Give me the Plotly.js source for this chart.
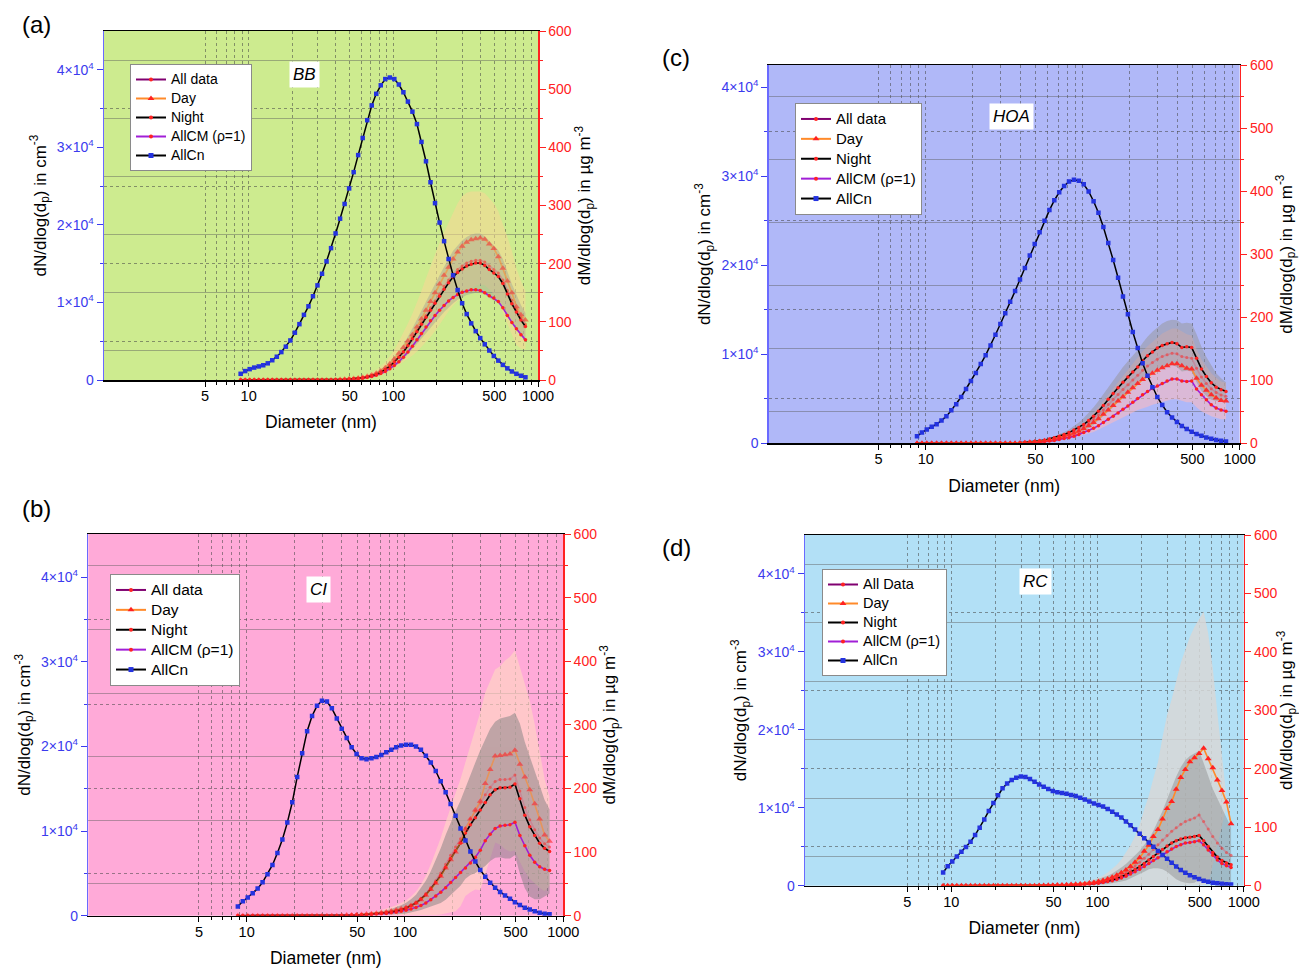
<!DOCTYPE html>
<html>
<head>
<meta charset="utf-8">
<script src="https://cdn.plot.ly/plotly-3.0.1.min.js"></script>
<style>html,body{margin:0;padding:0;background:#fff;}#chart{width:1299px;height:968px;}</style>
</head>
<body>
<div id="chart"></div>
<script>
// ---------------- DATA ----------------
const diameters = [8.80,9.46,10.16,10.92,11.74,12.61,13.55,14.56,15.65,16.82,18.07,19.42,20.87,22.43,24.10,25.90,27.83,29.90,32.14,34.53,37.11,39.88,42.85,46.05,49.49,53.18,57.15,61.41,65.99,70.91,76.21,81.89,88.00,94.57,101.6,109.2,117.4,126.1,135.5,145.6,156.5,168.2,180.7,194.2,208.7,224.3,241.0,259.0,278.3,299.0,321.4,345.3,371.1,398.8,428.5,460.5,494.9,531.8,571.5,614.1,659.9,709.1,762.1,818.9];
const xTickVals = [5,10,50,100,500,1000];
const xTickText = ['5','10','50','100','500','1000'];
const nTickVals = [0,10000,20000,30000,40000];
const nTickText = ['0','1×10<sup>4</sup>','2×10<sup>4</sup>','3×10<sup>4</sup>','4×10<sup>4</sup>'];
const mTickVals = [0,100,200,300,400,500,600];

// (a) BB
const a_AllCn = [800,1150,1400,1600,1750,1900,2150,2550,3000,3600,4300,5100,6100,7200,8400,9500,10800,12200,13700,15300,17000,18900,20800,22700,24700,26800,29000,31200,33500,35400,36900,38000,38800,39000,38800,38100,37100,35900,34600,33000,30700,28200,25500,22800,20300,17900,15600,13500,11600,9900,8500,7300,6300,5400,4600,3800,3100,2500,1950,1500,1100,800,550,350];
const a_All = [0,0,0,0,0,0,0,0,0,0,0,0,0,0,0,0,0,0,0,0,0,0.5,0.8,1.2,1.8,2.4,3.1,4.1,5.7,7.7,10.3,14,18.5,24.7,32,40,49.5,61,73,85.5,99,111,124,136,148,161,172,182,190,196,201,204,206,206,203,196,190,184,172,154,137,122,108,96];
const a_Day = [0,0,0,0,0,0,0,0,0,0,0,0,0,0,0,0,0,0,0,0,0,0.6,1,1.4,2,2.7,3.5,4.6,6.3,8.6,11.5,15.5,21,28,36,46,56,67,78,91,105,120,135,150,165,180,194,208,220,230,237,241,243,244,242,234,226,212,192,170,150,126,112,103];
const a_Night = [0,0,0,0,0,0,0,0,0,0,0,0,0,0,0,0,0,0,0,0,0,0.5,0.8,1.2,1.7,2.3,3,4,5.5,7.5,10,13.5,18,24,31,39,48,59,71,83,96,108,120,132,144,156,167,177,185,191,196,199,201,201,197,190,184,178,166,148,131,117,103,92];
const a_AllCM = [0,0,0,0,0,0,0,0,0,0,0,0,0,0,0,0,0,0,0,0,0,0.4,0.6,0.9,1.3,1.8,2.4,3.2,4.4,6,8,11,14.5,19.5,25,31.5,39,48,58,69,80,91,102,111,120,128,136,142,147,151,153,155,155,154,150,145,141,135,124,111,99,88,78,69];
const a_sdDay = [0,0,0,0,0,0,0,0,0,0,0,0,0,0,0,0,0,0,0,0,0,0.3,0.5,0.7,1,1.5,2,2.5,3.5,4.5,6,8,10,13,16,20,25,30,36,42,48,55,61,66,71,74,76,80,84,86,85,83,81,80,79,78,78,78,77,76,72,66,58,50];
const a_sdBand2 = [0,0,0,0,0,0,0,0,0,0,0,0,0,0,0,0,0,0,0,0,0,0.2,0.3,0.5,0.7,1,1.3,1.7,2.2,3,4,5,6,7.5,9,11,13,15,18,21,24,27,30,33,36,39,42,45,47,49,50,51,51,51,50,49,47,45,42,38,34,30,26,23];

// (b) CI
const b_AllCn = [1100,1700,2150,2650,3200,3950,4900,6000,7400,9000,11000,13400,16400,19200,21800,23600,24800,25400,25300,24500,23300,22100,21000,19900,19100,18600,18500,18600,18750,19000,19300,19600,19900,20100,20200,20200,20000,19600,18900,18100,17100,15900,14600,13200,11800,10300,8900,7600,6400,5400,4600,3900,3300,2800,2400,2000,1600,1250,950,720,520,350,230,170];
const b_All = [0,0,0,0,0,0,0,0,0,0,0,0,0,0,0,0,0,0,0,0,0,0.5,0.6,1,1.1,1.6,2.1,2.7,3.2,4.3,5.3,6.4,8,10,12.7,16.5,21,27.5,35,44.5,55,67,81,95,108,121,138,152,164,177,190,202,211,214,214,215,221,196,170,151,135,122,113,108];
const b_Day = [0,0,0,0,0,0,0,0,0,0,0,0,0,0,0,0,0,0,0,0,0,0.5,1,1,1.5,2,2.5,3,4,5,6,7.5,9,11,13,16,20,25,32,41,51,62,75,88,100,115,136,152,166,180,208,230,251,252,253,254,260,238,218,198,176,152,127,117];
const b_Night = [0,0,0,0,0,0,0,0,0,0,0,0,0,0,0,0,0,0,0,0,0,0.5,0.5,1,1,1.5,2,2.5,3,4,5,6,7.5,9.5,12,15.5,20,26,33,42,52,63,76,90,102,114,130,143,154,166,178,190,198,201,201,202,207,184,158,140,126,114,106,101];
const b_AllCM = [0,0,0,0,0,0,0,0,0,0,0,0,0,0,0,0,0,0,0,0,0,0.3,0.5,0.8,1,1.2,1.5,2,2.5,3,3.5,4.5,5.5,7,8.5,10.5,13,16,20,25,31,37,44,52,60,68,75,83,92,103,118,128,137,141,142,143,147,126,110,95,84,77,73,71];
const b_sdDay = [0,0,0,0,0,0,0,0,0,0,0,0,0,0,0,0,0,0,0,0,0,0.5,0.7,1,1.3,1.6,2,2.5,3,4,5,6,7.5,9,11,14,18,24,31,40,50,60,72,83,93,100,105,115,125,140,143,140,136,140,148,153,157,153,148,140,125,108,88,70];
const b_sdBand2 = [0,0,0,0,0,0,0,0,0,0,0,0,0,0,0,0,0,0,0,0,0,0.3,0.5,0.7,1,1.2,1.5,2,2.5,3,3.5,4.5,5.5,7,8.5,10.5,13,17,22,28,35,43,51,57,62,67,72,79,87,94,100,104,107,109,111,112,112,118,115,110,100,88,76,66];

// (c) HOA
const c_AllCn = [800,1200,1550,1850,2150,2550,3050,3700,4400,5200,6100,7000,7900,8900,9900,11000,12200,13400,14600,15900,17100,18400,19700,21100,22400,23700,25000,26200,27300,28200,28900,29400,29600,29500,29100,28300,27200,25900,24300,22500,20600,18600,16500,14500,12500,10700,9000,7600,6300,5200,4300,3500,2900,2400,1950,1600,1300,1050,850,650,500,380,280,200];
const c_All = [0,0,0,0,0,0,0,0,0,0,0,0,0,0,0,0,0,0,0,0,0,0.8,1.2,1.8,2.5,3.5,4.5,6,8,10,12.5,15,18.5,22,26.5,32,38,45,53,61.5,69.5,77.5,85.5,93,100.5,108,116,122.5,128,133.5,137.5,140.5,143,142,137.5,136,135,119,105,95,86.5,80.5,76.5,74.5];
const c_Day = [0,0,0,0,0,0,0,0,0,0,0,0,0,0,0,0,0,0,0,0,0,0.5,1,1.5,2,3,4,5,7,9,11,13,16,19,23,28,33,39,46,53,60,67,74,81,88,95,101,106,111,116,120,123,126,126,123,119,118,103,92,84,77,72,68,67];
const c_Night = [0,0,0,0,0,0,0,0,0,0,0,0,0,0,0,0,0,0,0,0,0,1,1.5,2,3,4,5,7,9,11,14,17,21,25,30,36,43,51,60,70,79,88,97,105,113,121,131,139,145,151,155,158,160,158,152,153,152,135,118,106,96,89,85,82];
const c_AllCM = [0,0,0,0,0,0,0,0,0,0,0,0,0,0,0,0,0,0,0,0,0,0.5,1,1,1.5,2,3,3.5,4.5,6,7.5,9,11,14,17,20,24,28,33,38,43,48,54,59,65,71,77,82,87,91,95,99,102,102,99,98,99,86,77,69,61,56,53,51];
const c_sdDay = [0,0,0,0,0,0,0,0,0,0,0,0,0,0,0,0,0,0,0,0,0,0.2,0.4,0.6,0.9,1.3,1.8,2.2,3,4,5,6,7,8.5,10,12.5,15,18,21,24,27,30,33,36,39,42,45,48,50,52,54,55,56,56,55,54,53,46,41,37,34,32,30,29];
const c_sdBand2 = [0,0,0,0,0,0,0,0,0,0,0,0,0,0,0,0,0,0,0,0,0,0.2,0.3,0.5,0.7,1,1.3,1.7,2.2,3,4,5,6.5,8,10,12,14,16,18,20,22,23,24,25,26,27,28,30,32,33,35,36,36,37,38,38,38,38,35,31,27,22,18,15];

// (d) RC
const d_AllCn = [1700,2500,3100,3750,4350,4950,5650,6500,7450,8500,9600,10600,11600,12500,13100,13550,13850,14000,13950,13700,13350,13000,12700,12400,12150,12000,11900,11800,11650,11500,11300,11050,10800,10550,10350,10150,9850,9500,9150,8750,8250,7750,7200,6650,6100,5550,5000,4450,3950,3450,2950,2450,2000,1650,1350,1100,850,650,500,380,300,240,200,170];
const d_All = [0,0,0,0,0,0,0,0,0,0,0,0,0,0,0,0,0,0,0,0,0,0.4,0.6,0.7,0.9,1.1,1.4,1.7,2.1,2.5,3,3.7,4.5,5.5,6.8,8.3,10,12.5,15.5,19,23,28,34,40,47,54,62,70,78,86,93,99,105,110,113,116,121,110,97,84,73,64,57,52];
const d_Day = [0,0,0,0,0,0,0,0,0,0,0,0,0,0,0,0,0,0,0,0,0,0.4,0.5,0.6,0.8,1,1.2,1.5,2,2.5,3,3.5,4.5,5.5,7,9,11.5,14.5,18,22,27,33,40,48,59,69,84,96,114,132,144,165,185,199,212,219,226,235,217,202,181,163,143,106];
const d_Night = [0,0,0,0,0,0,0,0,0,0,0,0,0,0,0,0,0,0,0,0,0,0.3,0.4,0.5,0.6,0.8,1,1.2,1.5,1.8,2.2,2.7,3.3,4,5,6,8,10,12.5,15.5,19,23,28,33,38,44,50,56,62,68,73,77,80,82,83,84,86,77,67,57,49,43,39,36];
const d_AllCM = [0,0,0,0,0,0,0,0,0,0,0,0,0,0,0,0,0,0,0,0,0,0.3,0.3,0.4,0.5,0.7,0.9,1.1,1.3,1.6,1.9,2.3,2.8,3.5,4.3,5.5,7,8.5,10.5,13,16,20,24,28,33,38,43,48,53,58,63,67,70,73,74,75,77,70,61,52,44,38,34,31];
const d_sdDay = [0,0,0,0,0,0,0,0,0,0,0,0,0,0,0,0,0,0,0,0,0,0.3,0.4,0.5,0.6,0.8,1,1.3,1.6,2,2.5,3,4,5,6.5,8.5,11,14,18,23,29,36,45,56,72,85,100,115,140,160,175,185,196,205,214,224,230,234,215,170,115,62,8,5];
const d_sdBand2 = [0,0,0,0,0,0,0,0,0,0,0,0,0,0,0,0,0,0,0,0,0,0.3,0.4,0.5,0.6,0.8,1,1.2,1.5,1.8,2.2,2.7,3.3,4,5,6,7,8.5,10,12,14,16,18,20,23,26,32,40,50,62,75,88,98,105,109,111,110,100,90,82,76,68,58,48];

// ---------------- STYLE ----------------
const FONT = 'Liberation Sans, Arial, Helvetica, sans-serif';
const RED = '#FF2222';
const BLUE = '#3B3BEE';
const GRIDDOT = 'rgba(70,70,70,0.55)';
const GRIDSOLID = 'rgba(90,90,90,0.45)';

const panels = [
  {id:'a', x:'x',  xl:'xaxis',  m:'y',  ml:'yaxis',  n:'y2', nl:'yaxis2', legend:'legend',
   xd:[104,538], yd:[31,380], nMax:45000, bg:'#CDEB8F', label:'BB', labelPos:[304,75], letterPos:[20,24],
   legPos:[130,64], legFont:12, legText:14, allName:'All data',
   AllCn:a_AllCn, All:a_All, Day:a_Day, Night:a_Night, AllCM:a_AllCM, sdDay:a_sdDay, sd2:a_sdBand2, center2:'Night',
   band1:'rgba(250,215,150,0.55)', band2:'rgba(150,150,150,0.38)', dayOp:0.55},
  {id:'c', x:'x2', xl:'xaxis2', m:'y3', ml:'yaxis3', n:'y4', nl:'yaxis4', legend:'legend2',
   xd:[768.75,1239.6], yd:[65,443.3], nMax:42500, bg:'#B0B8F8', label:'HOA', labelPos:[1011,116], letterPos:[660,58],
   legPos:[795,103], legFont:13, legText:15, allName:'All data',
   AllCn:c_AllCn, All:c_All, Day:c_Day, Night:c_Night, AllCM:c_AllCM, sdDay:c_sdDay, sd2:c_sdBand2, center2:'Night',
   band1:'rgba(255,190,190,0.55)', band2:'rgba(150,150,150,0.5)', dayOp:0.9},
  {id:'b', x:'x3', xl:'xaxis3', m:'y5', ml:'yaxis5', n:'y6', nl:'yaxis6', legend:'legend3',
   xd:[88.3,563.3], yd:[534,915.7], nMax:45100, bg:'#FFAAD8', label:'CI', labelPos:[318,589], letterPos:[20,508],
   legPos:[110,574], legFont:13, legText:15.5, allName:'All data',
   AllCn:b_AllCn, All:b_All, Day:b_Day, Night:b_Night, AllCM:b_AllCM, sdDay:b_sdDay, sd2:b_sdBand2, center2:'Night',
   band1:'rgba(255,215,195,0.65)', band2:'rgba(130,130,130,0.5)', dayOp:0.6},
  {id:'d', x:'x4', xl:'xaxis4', m:'y7', ml:'yaxis7', n:'y8', nl:'yaxis8', legend:'legend4',
   xd:[805,1243.75], yd:[535,885.7], nMax:45000, bg:'#B2E0F6', label:'RC', labelPos:[1035,581], letterPos:[660,547],
   legPos:[822,569], legFont:12, legText:14.5, allName:'All Data',
   AllCn:d_AllCn, All:d_All, Day:d_Day, Night:d_Night, AllCM:d_AllCM, sdDay:d_sdDay, sd2:d_sdBand2, center2:'All',
   band1:'rgba(215,215,215,0.85)', band2:'rgba(140,140,140,0.45)', dayOp:1}
];

const W = 1299, H = 968;
const px = v => v / W;
const py = v => 1 - v / H;

const traces = [];
const layout = {
  width: W, height: H,
  margin: {l:0, r:0, t:0, b:0},
  paper_bgcolor: '#ffffff', plot_bgcolor: '#ffffff',
  font: {family: FONT, color: '#000', size: 13},
  showlegend: true,
  shapes: [], annotations: []
};

function band(center, sd, color, p) {
  const up = center.map((v, i) => v + sd[i]);
  const lo = center.map((v, i) => Math.max(0, v - sd[i]));
  return {
    x: diameters.concat(diameters.slice().reverse()),
    y: up.concat(lo.slice().reverse()),
    mode: 'lines', fill: 'toself', fillcolor: color, line: {width: 0},
    hoverinfo: 'skip', showlegend: false, xaxis: p.x, yaxis: p.m
  };
}

panels.forEach(p => {
  layout[p.xl] = {
    domain: [px(p.xd[0]), px(p.xd[1])], anchor: p.m, type: 'log', range: [0, 3],
    tickmode: 'array', tickvals: xTickVals, ticktext: xTickText,
    ticks: 'outside', ticklen: 5, tickwidth: 1, tickcolor: '#000', ticklabelstandoff: -3,
    tickfont: {size: 14.5, color: '#000'},
    showline: true, linecolor: '#000', linewidth: 1.5, mirror: true,
    showgrid: true, gridcolor: GRIDDOT, griddash: 'dot', gridwidth: 1, zeroline: false,
    minor: {tickmode: 'array', tickvals: [6,7,8,9,20,30,40,60,70,80,90,200,300,400,600,700,800,900],
            ticks: 'outside', ticklen: 3, tickcolor: '#000', showgrid: true, gridcolor: GRIDDOT, griddash: 'dot', gridwidth: 1},
    title: {text: 'Diameter (nm)', font: {size: 17.5, color: '#000'}, standoff: 13}
  };
  layout[p.ml] = {
    domain: [py(p.yd[1]), py(p.yd[0])], anchor: p.x, side: 'right', range: [0, 600],
    tickmode: 'array', tickvals: mTickVals, ticks: 'outside', ticklen: 6, tickwidth: 1, tickcolor: RED,
    tickfont: {size: 14, color: RED},
    showline: true, linecolor: RED, linewidth: 1.5, showgrid: false, zeroline: false,
    minor: {tickmode: 'array', tickvals: [50,150,250,350,450,550], ticks: 'outside', ticklen: 3, tickcolor: RED,
            showgrid: true, gridcolor: GRIDSOLID, gridwidth: 1},
    title: {text: 'dM/dlog(d<sub>p</sub>) in µg m<sup>-3</sup>', font: {size: 17, color: '#000'}, standoff: 6}
  };
  layout[p.nl] = {
    overlaying: p.m, anchor: p.x, side: 'left', range: [0, p.nMax],
    tickmode: 'array', tickvals: nTickVals, ticktext: nTickText,
    ticks: 'outside', ticklen: 6, tickwidth: 1, tickcolor: BLUE,
    tickfont: {size: 14, color: BLUE},
    showline: true, linecolor: '#6A6AFF', linewidth: 1.5, showgrid: false, zeroline: false,
    minor: {tickmode: 'array', tickvals: [5000,15000,25000,35000], ticks: 'outside', ticklen: 3, tickcolor: BLUE,
            showgrid: true, gridcolor: GRIDDOT, griddash: 'dot', gridwidth: 1},
    title: {text: 'dN/dlog(d<sub>p</sub>) in cm<sup>-3</sup>', font: {size: 17, color: '#000'}, standoff: 6}
  };
  layout.shapes.push({type: 'rect', xref: p.x + ' domain', yref: p.m + ' domain', x0: 0, x1: 1, y0: 0, y1: 1,
    fillcolor: p.bg, line: {width: 0}, layer: 'below'});
  layout.annotations.push({xref: 'paper', yref: 'paper', x: px(p.letterPos[0]), y: py(p.letterPos[1]),
    xanchor: 'left', yanchor: 'middle', showarrow: false, text: '(' + p.id + ')', font: {size: 24, color: '#000'}});
  layout.annotations.push({xref: 'paper', yref: 'paper', x: px(p.labelPos[0]), y: py(p.labelPos[1]),
    xanchor: 'center', yanchor: 'middle', showarrow: false, text: '<i>' + p.label + '</i>',
    font: {size: 17, color: '#000'}, bgcolor: '#ffffff', borderpad: 3});
  layout[p.legend] = {x: px(p.legPos[0]), y: py(p.legPos[1]), xanchor: 'left', yanchor: 'top',
    bgcolor: '#ffffff', bordercolor: '#8a8a8a', borderwidth: 1, font: {size: p.legFont, color: '#000', family: FONT},
    tracegroupgap: 0, itemwidth: 30, traceorder: 'normal'};

  traces.push(band(p.Day, p.sdDay, p.band1, p));
  traces.push(band(p[p.center2], p.sd2, p.band2, p));

  const common = {x: diameters, xaxis: p.x, yaxis: p.m, mode: 'lines+markers', showlegend: false, hoverinfo: 'skip'};
  traces.push(Object.assign({}, common, {y: p.All, opacity: 0.55,
    line: {color: 'rgb(205,115,140)', width: 1.6}, marker: {color: RED, size: 3, symbol: 'circle'}}));
  traces.push(Object.assign({}, common, {y: p.AllCM,
    line: {color: '#A11FD6', width: 1.6}, marker: {color: RED, size: 3.5, symbol: 'circle'}}));
  traces.push(Object.assign({}, common, {y: p.Night,
    line: {color: '#000000', width: 1.6}, marker: {color: RED, size: 3.5, symbol: 'circle'}}));
  traces.push(Object.assign({}, common, {y: p.Day, opacity: p.dayOp,
    line: {color: '#FF8A2A', width: 1.6}, marker: {color: RED, size: 6, symbol: 'triangle-up'}}));
  traces.push({x: diameters, y: p.AllCn, xaxis: p.x, yaxis: p.n, mode: 'lines+markers', showlegend: false,
    hoverinfo: 'skip', line: {color: '#000000', width: 1.5}, marker: {color: '#2433E0', size: 4.5, symbol: 'square'}});

  const big = t => '<span style="font-size:' + p.legText + 'px">' + t + '</span>';
  const leg = [
    {name: big(p.allName), line: {color: '#800070', width: 2}, marker: {color: RED, size: 4, symbol: 'circle'}},
    {name: big('Day'), line: {color: '#FF8A2A', width: 2}, marker: {color: RED, size: 6, symbol: 'triangle-up'}},
    {name: big('Night'), line: {color: '#000000', width: 2}, marker: {color: RED, size: 4, symbol: 'circle'}},
    {name: big('AllCM (ρ=1)'), line: {color: '#A11FD6', width: 2}, marker: {color: RED, size: 4, symbol: 'circle'}},
    {name: big('AllCn'), line: {color: '#000000', width: 2}, marker: {color: '#2433E0', size: 5, symbol: 'square'}}
  ];
  leg.forEach(l => traces.push(Object.assign({x: [null], y: [null], xaxis: p.x, yaxis: p.m, mode: 'lines+markers',
    showlegend: true, legend: p.legend, hoverinfo: 'skip'}, l)));
});

Plotly.newPlot('chart', traces, layout, {staticPlot: true, displayModeBar: false});
</script>
</body>
</html>
